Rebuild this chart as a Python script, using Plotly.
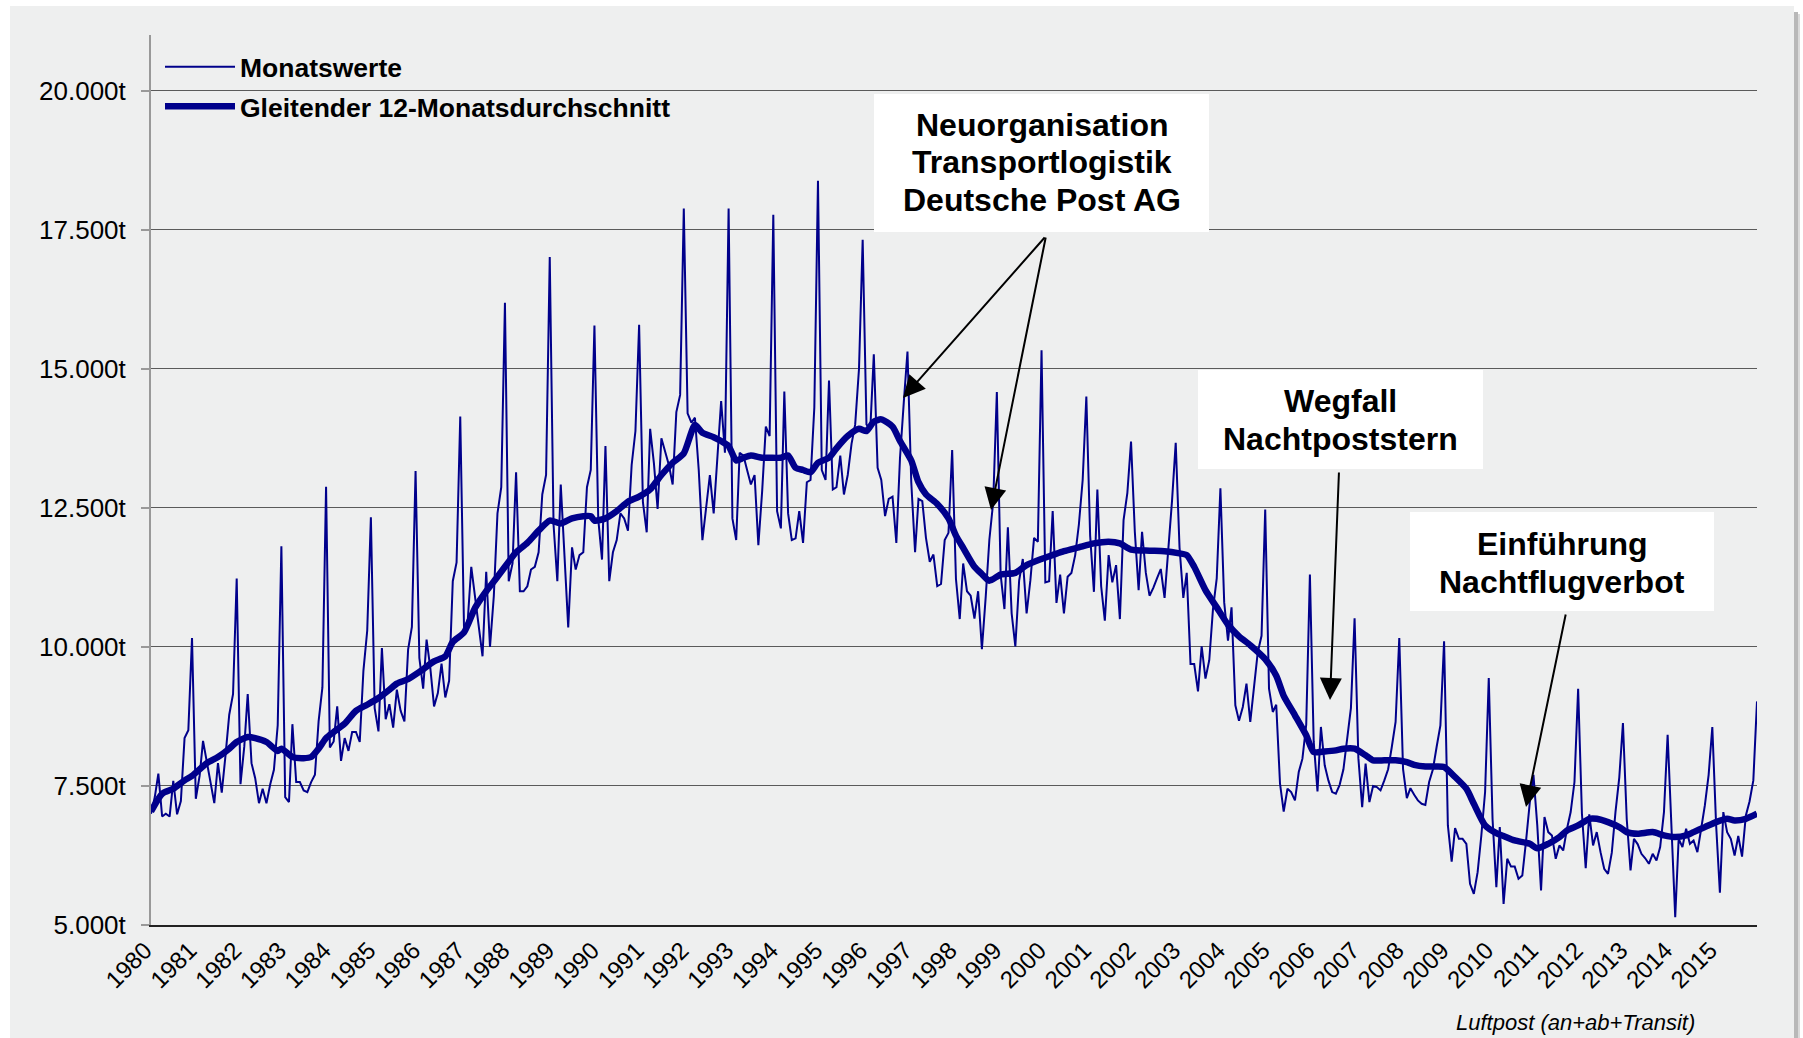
import pandas as pd
import plotly.graph_objects as go

# ---------------- data ----------------
year_labels = [str(y) for y in range(1980, 2016)]

monthly_values = [
    # 1980
    7000, 7300, 7720, 6950, 7000, 6950, 7590, 6990, 7230, 8360, 8500, 10160,
    # 1981
    7270, 7680, 8310, 7910, 7530, 7190, 7910, 7380, 8060, 8780, 9150, 11230,
    # 1982
    7530, 8210, 9150, 7910, 7640, 7190, 7450, 7190, 7530, 7790, 8590, 11810,
    # 1983
    7300, 7210, 8610, 7570, 7570, 7420, 7390, 7570, 7700, 8660, 9270, 12880,
    # 1984
    8190, 8300, 8930, 7950, 8360, 8130, 8470, 8470, 8290, 9570, 10290, 12330,
    # 1985
    8900, 8480, 9980, 8700, 8970, 8550, 9230, 8850, 8660, 9950, 10360, 13160,
    # 1986
    9800, 9250, 10130, 9610, 8930, 9170, 9700, 9090, 9390, 11180, 11520, 14140,
    # 1987
    10300, 10500, 11440, 10900, 10400, 9830, 11350, 10000, 10910, 12400, 12870, 16185,
    # 1988
    11180, 11500, 13140, 11000, 11000, 11090, 11390, 11440, 11700, 12740, 13090, 17010,
    # 1989
    12200, 11180, 12920, 11500, 10350, 11790, 11390, 11650, 11700, 12870, 13180, 15775,
    # 1990
    12300, 11570, 13610, 11180, 11700, 11920, 12400, 12310, 12090, 13270, 13880, 15790,
    # 1991
    12600, 12060, 13920, 13300, 12480, 13750, 13500, 13270, 12920, 14220, 14530, 17880,
    # 1992
    14200, 14030, 14120, 13180, 11920, 12570, 13090, 12400, 13350, 14420, 13490, 17880,
    # 1993
    12310, 11920, 13490, 13440, 13180, 12920, 13090, 11830, 12800, 13960, 13790, 17770,
    # 1994
    12440, 12130, 14590, 12400, 11920, 11950, 12440, 11870, 12960, 13000, 14300, 18380,
    # 1995
    13180, 13000, 14790, 12830, 12870, 13440, 12740, 13090, 13650, 14000, 15000, 17320,
    # 1996
    14000, 13900, 15260, 13220, 13000, 12350, 12660, 12700, 11870, 13400, 14400, 15310,
    # 1997
    12960, 11700, 12660, 12620, 11960, 11530, 11660, 11090, 11130, 11920, 12050, 13540,
    # 1998
    11220, 10500, 11500, 11000, 10920, 10510, 11000, 9960, 10900, 11930, 12600, 14580,
    # 1999
    11300, 10680, 12150, 10600, 10010, 11190, 11580, 10600, 11200, 11960, 11890, 15330,
    # 2000
    11160, 11180, 12440, 10790, 11300, 10600, 11260, 11330, 11650, 12200, 13000, 14500,
    # 2001
    12000, 10990, 12830, 11090, 10470, 11650, 11160, 11470, 10500, 12280, 12770, 13690,
    # 2002
    12070, 11020, 12070, 11330, 10920, 11060, 11230, 11400, 10880, 11720, 12630, 13670,
    # 2003
    11790, 10880, 11330, 9690, 9690, 9200, 10010, 9430, 9760, 10670, 11230, 12850,
    # 2004
    10800, 10110, 10710, 8950, 8670, 8920, 9340, 8650, 9250, 9900, 10200, 12470,
    # 2005
    9250, 8830, 8960, 7540, 7040, 7450, 7390, 7240, 7750, 7990, 8600, 11300,
    # 2006
    8300, 7400, 8560, 7870, 7600, 7390, 7360, 7520, 7800, 8300, 8900, 10515,
    # 2007
    8000, 7120, 7900, 7210, 7500, 7480, 7420, 7600, 7800, 8200, 8650, 10160,
    # 2008
    7800, 7280, 7460, 7340, 7240, 7180, 7160, 7570, 7800, 8200, 8590, 10100,
    # 2009
    6790, 6140, 6740, 6550, 6550, 6460, 5740, 5560, 5950, 6600, 7390, 9440,
    # 2010
    6900, 5680, 6760, 5380, 6190, 6050, 6050, 5830, 5890, 6500, 7200, 7700,
    # 2011
    6800, 5620, 6940, 6670, 6610, 6190, 6430, 6340, 6730, 7030, 7570, 9245,
    # 2012
    7000, 6020, 6990, 6430, 6670, 6310, 6010, 5920, 6300, 7030, 7650, 8630,
    # 2013
    6900, 5980, 6550, 6450, 6280, 6200, 6100, 6280, 6160, 6400, 7030, 8420,
    # 2014
    6800, 5140, 6550, 6400, 6730, 6460, 6520, 6310, 6730, 7150, 7700, 8560,
    # 2015
    6800, 5580, 7030, 6670, 6550, 6250, 6600, 6230, 6970, 7220, 7600, 9020,
]

# 12-month moving average (month index from Jan 1980)
ma_month_index = [
    0, 3, 6, 9, 11, 15, 18, 21, 23, 26, 28, 31, 34, 35, 38, 41, 43, 45, 47, 49,
    52, 55, 58, 61, 64, 66, 69, 72, 76, 79, 81, 84, 87, 90, 93, 95, 98, 101, 104, 107,
    110, 113, 116, 118, 119, 122, 125, 128, 131, 134, 137, 140, 143, 146, 148, 151, 153, 155, 157, 159,
    161, 164, 166, 169, 171, 173, 175, 177, 179, 182, 184, 187, 190, 192, 194, 196, 199, 201, 204, 206,
    208, 211, 214, 216, 218, 221, 223, 225, 228, 232, 235, 239, 242, 245, 249, 253, 257, 260, 263, 268,
    272, 276, 278, 280, 283, 286, 289, 292, 295, 299, 302, 304, 307, 310, 312, 315, 318, 320, 323, 326,
    328, 331, 334, 337, 339, 342, 345, 347, 350, 353, 355, 358, 361, 363, 366, 370, 372, 375, 378, 380,
    383, 386, 388, 391, 394, 396, 399, 403, 406, 409, 412, 414, 417, 420, 423, 425, 428, 431,
]
ma_values = [
    7040, 7360, 7450, 7600, 7680, 7910, 8020, 8170, 8290, 8380, 8360, 8290, 8130, 8170, 8020, 8000, 8020, 8170, 8360, 8470,
    8620, 8850, 8960, 9080, 9230, 9340, 9420, 9550, 9740, 9830, 10090, 10260, 10700, 11000, 11260, 11440, 11700, 11870, 12090, 12270,
    12220, 12310, 12350, 12350, 12270, 12310, 12440, 12610, 12700, 12830, 13090, 13310, 13480, 13990, 13850, 13770, 13700, 13610, 13350, 13400,
    13440, 13400, 13400, 13400, 13440, 13220, 13180, 13140, 13310, 13400, 13570, 13790, 13920, 13880, 14050, 14090, 13960, 13700, 13350, 12960,
    12740, 12570, 12310, 12000, 11780, 11440, 11310, 11190, 11300, 11330, 11470, 11580, 11650, 11720, 11790, 11860, 11890, 11860, 11750, 11730,
    11720, 11680, 11650, 11440, 11020, 10710, 10400, 10190, 10030, 9780, 9480, 9120, 8770, 8410, 8110, 8120, 8140, 8170, 8170, 8050,
    7960, 7960, 7960, 7930, 7880, 7850, 7850, 7840, 7660, 7450, 7180, 6790, 6650, 6600, 6520, 6460, 6380, 6460, 6580, 6700,
    6790, 6910, 6910, 6850, 6760, 6670, 6640, 6670, 6610, 6580, 6610, 6670, 6760, 6850, 6910, 6880, 6910, 7000,
]

y_tick_values = [5000, 7500, 10000, 12500, 15000, 17500, 20000]
y_tick_labels = ["5.000t", "7.500t", "10.000t", "12.500t", "15.000t", "17.500t", "20.000t"]

series_names = ["Monatswerte", "Gleitender 12-Monatsdurchschnitt"]

annotation_lines = [
    ["Neuorganisation", "Transportlogistik", "Deutsche Post AG"],
    ["Wegfall", "Nachtpoststern"],
    ["Einführung", "Nachtflugverbot"],
]
footnote = "Luftpost (an+ab+Transit)"

# ---------------- figure ----------------
months = pd.date_range("1980-01-01", periods=len(monthly_values), freq="MS")
ma_dates = [months[i] for i in ma_month_index]
year_ticks = [pd.Timestamp(f"{y}-01-01") for y in year_labels]

NAVY = "#00008B"
FONT = "Liberation Sans, Arial, sans-serif"
BG = "#EEEFEF"

fig = go.Figure()
fig.add_trace(go.Scatter(
    x=months, y=monthly_values, mode="lines",
    name=f"<b>{series_names[0]}</b>", legendgroup="a",
    line=dict(color=NAVY, width=2),
))
fig.add_trace(go.Scatter(
    x=ma_dates, y=ma_values, mode="lines",
    name=f"<b>{series_names[1]}</b>", legendgroup="b",
    line=dict(color=NAVY, width=6.5, shape="spline", smoothing=0.6),
))

W, H = 1803, 1038
L, R, T, B = 151, 46, 35, 113
pw, ph = W - L - R, H - T - B


def px(xp):
    return (xp - L) / pw


def py(yp):
    return (H - B - yp) / ph


shapes = [
    # grey card with white frame
    dict(type="rect", xref="paper", yref="paper", layer="below",
         x0=px(10), x1=px(1794), y0=py(1040), y1=py(6),
         fillcolor=BG, line=dict(width=0)),
    # right-hand shadow
    dict(type="rect", xref="paper", yref="paper", layer="below",
         x0=px(1794), x1=px(1798), y0=py(1040), y1=py(12),
         fillcolor="#B8B8B8", line=dict(width=0)),
    dict(type="rect", xref="paper", yref="paper", layer="below",
         x0=px(1798), x1=px(1800), y0=py(1040), y1=py(14),
         fillcolor="#DADADA", line=dict(width=0)),
]

boxes = [
    (874, 1209, 94, 232),
    (1198, 1483, 370, 469),
    (1410, 1714, 512, 611),
]
line_pos = [
    (1042, [125, 162, 200]),
    (1340, [401, 439]),
    (1562, [544, 582]),
]
for x0, x1, y0, y1 in boxes:
    shapes.append(dict(type="rect", xref="paper", yref="paper", layer="above",
                       x0=px(x0), x1=px(x1), y0=py(y1), y1=py(y0),
                       fillcolor="white", line=dict(width=0)))

annotations = []
for (cx, ys), lines in zip(line_pos, annotation_lines):
    for yy, txt in zip(ys, lines):
        annotations.append(dict(
            xref="paper", yref="paper", x=px(cx), y=py(yy),
            text=f"<b>{txt}</b>", showarrow=False, xanchor="center", yanchor="middle",
            font=dict(family=FONT, size=32, color="black"),
        ))

arrows = [
    ((1046, 236), (903, 398)),
    ((1046, 236), (991, 510)),
    ((1339, 471), (1330, 700)),
    ((1566, 613), (1526, 807)),
]
for (tx, ty), (hx, hy) in arrows:
    annotations.append(dict(
        xref="x domain", yref="y domain", axref="x domain", ayref="y domain",
        x=px(hx), y=py(hy), ax=px(tx), ay=py(ty), text="",
        showarrow=True, arrowhead=2, arrowsize=2.2, arrowwidth=2, arrowcolor="black",
    ))

annotations.append(dict(
    xref="paper", yref="paper", x=px(1575), y=py(1022), text=f"<i>{footnote}</i>",
    showarrow=False, xanchor="center", yanchor="middle",
    font=dict(family=FONT, size=22, color="black"),
))

fig.update_layout(
    width=W, height=H, autosize=False,
    margin=dict(l=L, r=R, t=T, b=B, pad=0),
    paper_bgcolor="white", plot_bgcolor=BG,
    font=dict(family=FONT, color="black"),
    shapes=shapes, annotations=annotations,
    showlegend=True,
    legend=dict(x=px(160), y=py(43), xanchor="left", yanchor="top",
                bgcolor="rgba(0,0,0,0)", font=dict(family=FONT, size=26.5, color="black"),
                tracegroupgap=2, itemwidth=70),
    xaxis=dict(
        type="date", range=[months[0], months[-1]],
        tickvals=year_ticks, ticktext=year_labels, tickangle=-45,
        tickfont=dict(family=FONT, size=24, color="black"),
        showgrid=False, ticks="", showline=True, linecolor="#222222", linewidth=1.5,
        zeroline=False, ticklabelstandoff=0, ticklabelshift=-6,
    ),
    yaxis=dict(
        range=[5000, 21000], tickvals=y_tick_values, ticktext=y_tick_labels,
        tickfont=dict(family=FONT, size=26, color="black"),
        showgrid=True, gridcolor="#5A5A5A", gridwidth=1.3,
        ticks="outside", ticklen=8, tickwidth=2, tickcolor="#999999",
        showline=True, linecolor="#999999", linewidth=2,
        zeroline=False, ticklabelstandoff=10,
    ),
)

fig.write_html(
    "out.html",
    config={"displayModeBar": False},
    post_script="document.body.style.margin='0';document.body.style.padding='0';"
                "document.body.style.overflow='hidden';",
)
